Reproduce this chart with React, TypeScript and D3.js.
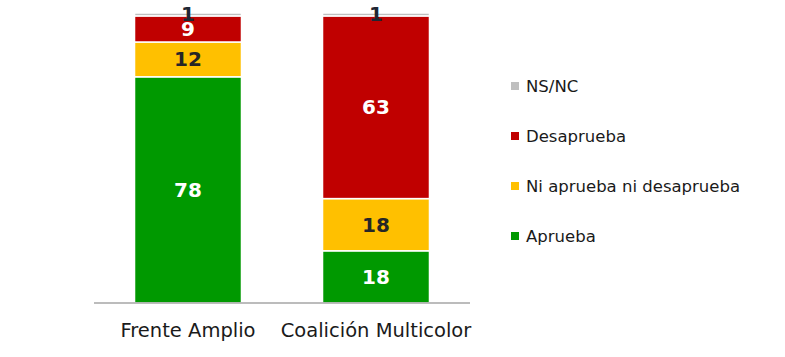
import React from "react";
import * as d3 from "d3";

const categories = ["Frente Amplio", "Coalición Multicolor"];
const seriesNames = ["Aprueba", "Ni aprueba ni desaprueba", "Desaprueba", "NS/NC"];
const aprueba = [78, 18];
const ni = [12, 18];
const desaprueba = [9, 63];
const nsnc = [1, 1];
const colors = ["#009900", "#ffc000", "#c00000", "#bfbfbf"];
const labelColors = ["#ffffff", "#262626", "#ffffff", "#1f2633"];

const W = 785;
const H = 357;
const FONT = "'DejaVu Sans', Verdana, sans-serif";

export default function App() {
  const rows = categories.map((c, i) => ({
    cat: c,
    "Aprueba": aprueba[i],
    "Ni aprueba ni desaprueba": ni[i],
    "Desaprueba": desaprueba[i],
    "NS/NC": nsnc[i],
  }));
  const stack = d3.stack<any>().keys(seriesNames)(rows);
  const x = d3.scaleBand().domain(categories).range([94, 470]).paddingInner(0.431).paddingOuter(0.2155);
  const y = d3.scaleLinear().domain([0, 100]).range([303, 13]);
  const legendOrder = [3, 2, 1, 0];

  return (
    <svg width={W} height={H} style={{ position: "absolute", left: 0, top: 0, background: "#fff" }}>
      {stack.map((s, si) => (
        <g key={s.key}>
          {s.map((d, di) => (
            <rect
              key={di}
              x={x(categories[di])}
              y={y(d[1])}
              width={x.bandwidth()}
              height={y(d[0]) - y(d[1])}
              fill={colors[si]}
              stroke="#ffffff"
              strokeWidth={1.5}
            />
          ))}
        </g>
      ))}
      <line x1={94} x2={470} y1={303} y2={303} stroke="#a6a6a6" strokeWidth={1.5} />
      {stack.map((s, si) => (
        <g key={"l" + s.key}>
          {s.map((d, di) => (
            <text
              key={di}
              x={(x(categories[di]) as number) + x.bandwidth() / 2}
              y={(y(d[0]) + y(d[1])) / 2}
              textAnchor="middle"
              dominantBaseline="central"
              fontFamily={FONT}
              fontWeight="bold"
              fontSize={20}
              fill={labelColors[si]}
            >
              {d[1] - d[0]}
            </text>
          ))}
        </g>
      ))}
      {categories.map((c) => (
        <text
          key={c}
          x={(x(c) as number) + x.bandwidth() / 2}
          y={337}
          textAnchor="middle"
          fontFamily={FONT}
          fontSize={19.5}
          fill="#1a1a1a"
        >
          {c}
        </text>
      ))}
      {legendOrder.map((si, i) => (
        <g key={"leg" + si} transform={`translate(511, ${92 + i * 50})`}>
          <rect x={0} y={-10} width={8} height={8} fill={colors[si]} />
          <text x={15} y={0} fontFamily={FONT} fontSize={16.5} fill="#1a1a1a">
            {seriesNames[si]}
          </text>
        </g>
      ))}
    </svg>
  );
}
